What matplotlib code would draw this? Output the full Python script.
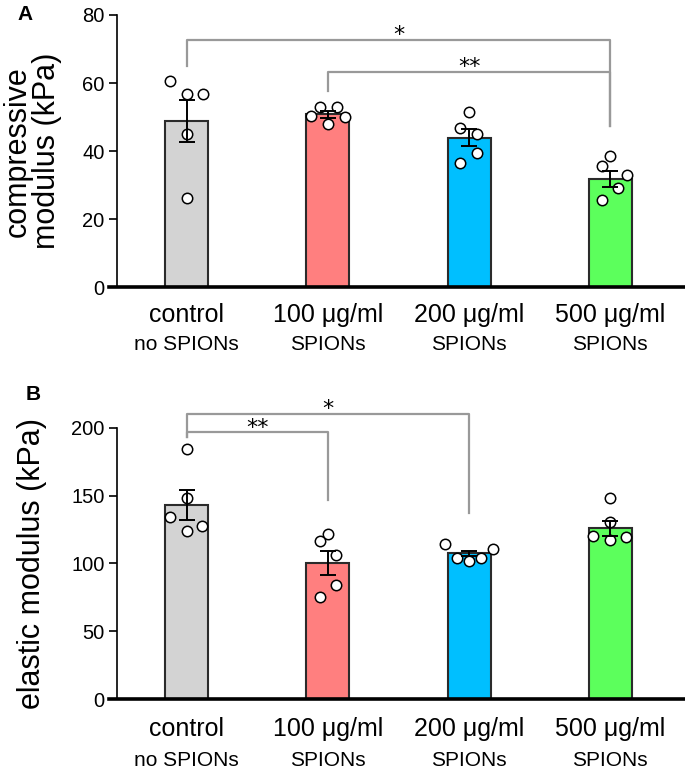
import matplotlib
matplotlib.use("Agg")
import matplotlib.pyplot as plt
from matplotlib.lines import Line2D

plt.rcParams['font.family'] = ['Liberation Sans', 'DejaVu Sans']

groups = ["control", "100 μg/ml", "200 μg/ml", "500 μg/ml"]
sublabels = ["no SPIONs", "SPIONs", "SPIONs", "SPIONs"]
colors = ["#d3d3d3", "#ff7f7f", "#00bfff", "#5cff5c"]

# panel A: compressive modulus (kPa)
comp_mean = [48.8, 50.8, 44.0, 31.8]
comp_sem = [6.2, 1.0, 2.6, 2.3]
comp_pts = [
    [60.6, 56.8, 56.8, 44.9, 26.2],
    [53.1, 53.1, 50.2, 50.0, 47.9],
    [51.6, 46.8, 45.1, 39.4, 36.4],
    [38.7, 35.5, 33.1, 29.1, 25.7],
]

# panel B: elastic modulus (kPa)
elas_mean = [143.1, 100.4, 107.5, 125.9]
elas_sem = [10.8, 8.8, 1.8, 5.5]
elas_pts = [
    [184.3, 148.5, 134.0, 127.6, 123.9],
    [121.5, 116.6, 106.3, 83.9, 75.3],
    [114.1, 110.9, 103.8, 103.8, 102.1],
    [148.0, 130.8, 120.5, 119.3, 117.3],
]

# horizontal jitter of the dots (category units)
jit_a = [[-0.12, 0, 0.115, 0, 0],
         [-0.057, 0.062, -0.12, 0.12, 0],
         [0, -0.064, 0.055, 0.055, -0.064],
         [0, -0.06, 0.117, 0.055, -0.06]]
jit_b = [[0, 0, -0.12, 0.11, 0],
         [0, -0.06, 0.06, 0.06, -0.06],
         [-0.173, 0.166, -0.083, 0.083, 0],
         [0, 0, -0.12, 0.115, 0]]

fig = plt.figure(figsize=(6.85, 7.72), dpi=100)
axA = fig.add_axes([0.1708, 0.6278, 0.8292, 0.3528])
axB = fig.add_axes([0.1708, 0.0942, 0.8292, 0.3518])


def draw_panel(ax, means, sems, pts, jit, ymax, yticks, ylabel, labx, off1, off2):
    x = list(range(len(means)))
    ax.bar(x, means, width=0.305, color=colors, edgecolor="#2b2b2b",
           linewidth=1.5, zorder=1)
    for i in x:
        ax.plot([i + j for j in jit[i]], pts[i], 'o', ms=7.5, mfc="white",
                mec="black", mew=1.1, zorder=2, clip_on=False)
    ax.errorbar(x, means, yerr=sems, fmt='none', ecolor="black",
                elinewidth=1.4, capsize=5.5, capthick=1.4, zorder=3)
    ax.set_xlim(-0.495, 3.53)
    ax.set_ylim(0, ymax)
    ax.set_yticks(yticks)
    for s in ["top", "right", "bottom"]:
        ax.spines[s].set_visible(False)
    ax.spines["left"].set_linewidth(1.2)
    ax.tick_params(axis="y", length=6, width=1.2, labelsize=14.5, pad=3)
    ax.tick_params(axis="x", length=0, labelbottom=False)
    ax.add_line(Line2D([-0.014, 1.0], [0, 0], transform=ax.transAxes,
                       color="black", lw=2.6, clip_on=False, zorder=5))
    ax.set_ylabel(ylabel, fontsize=22, linespacing=0.95)
    ax.yaxis.set_label_coords(labx, 0.5)
    for i in x:
        ax.annotate(groups[i], xy=(i, 0), xycoords=('data', 'axes fraction'),
                    xytext=(0, -off1), textcoords='offset points',
                    ha='center', va='center', fontsize=18)
        ax.annotate(sublabels[i], xy=(i, 0), xycoords=('data', 'axes fraction'),
                    xytext=(0, -off2), textcoords='offset points',
                    ha='center', va='center', fontsize=15)


def bracket(ax, x1, x2, y, y1, y2, label, ty):
    ax.plot([x1, x1, x2, x2], [y1, y, y, y2], color="#999999", lw=1.6,
            clip_on=False, zorder=4)
    ax.text((x1 + x2) / 2, ty, label, ha='center', va='center', fontsize=16,
            family=['DejaVu Sans'])


draw_panel(axA, comp_mean, comp_sem, comp_pts, jit_a, 80, [0, 20, 40, 60, 80],
           "compressive\nmodulus (kPa)", -0.097, 20, 41.5)
bracket(axA, 0, 3, 72.6, 65.1, 47.4, "*", 74.0)
bracket(axA, 1, 3, 63.2, 57.8, 47.4, "**", 64.6)

draw_panel(axB, elas_mean, elas_sem, elas_pts, jit_b, 200, [0, 50, 100, 150, 200],
           "elastic modulus (kPa)", -0.123, 21.5, 44)
bracket(axB, 0, 2, 210.3, 192.9, 137.4, "*", 214.0)
bracket(axB, 0, 1, 196.6, 192.9, 146.8, "**", 200.0)

fig.text(0.0365, 0.9806, "A", fontsize=15, fontweight="bold",
         ha='center', va='center')
fig.text(0.048, 0.489, "B", fontsize=15, fontweight="bold",
         ha='center', va='center')

fig.savefig("out.png", dpi=100)
